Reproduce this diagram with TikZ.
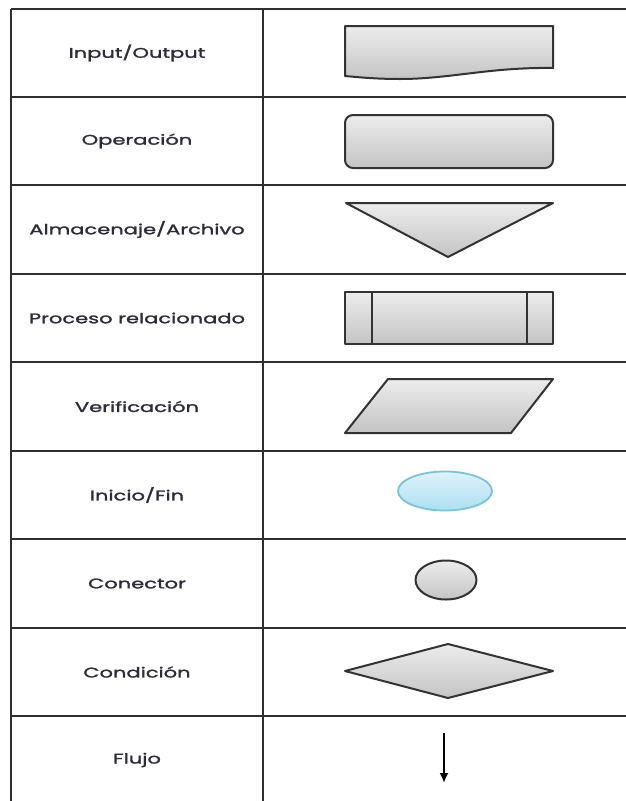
\documentclass[tikz,border=0pt]{standalone}
\usepackage{fontspec}
\newfontfamily\labfont{Poppins}[FakeStretch=1.5, FakeBold=1.6]
\usetikzlibrary{arrows.meta}
\definecolor{gridline}{HTML}{2E2E2E}
\definecolor{shapeline}{HTML}{333333}
\definecolor{labelink}{HTML}{2F2A38}
\definecolor{greytop}{HTML}{ECECEC}
\definecolor{greybot}{HTML}{C4C4C4}
\definecolor{bluetop}{HTML}{DDF3FB}
\definecolor{bluebot}{HTML}{AEDFF1}
\definecolor{blueline}{HTML}{7CC3D8}
\tikzset{
  grid/.style={draw=gridline, line width=2pt},
  label/.style={font=\labfont\fontsize{14}{16}\selectfont, text=labelink, inner sep=0pt, anchor=center},
  symbol/.style={draw=shapeline, line width=2pt, line join=round, top color=greytop, bottom color=greybot},
  terminal/.style={draw=blueline, line width=1.8pt, top color=bluetop, bottom color=bluebot},
  flow/.style={draw=black, line width=1.8pt, -{Latex[length=10pt,width=9pt]}}
}
\begin{document}
\begin{tikzpicture}[x=1pt, y=-1pt]
  \useasboundingbox (0,0) rectangle (626,801);
  \fill[white] (0,0) rectangle (626,801);

  % table rules
  \draw[grid] (11,9) -- (626,9);
  \foreach \yy in {97,185,274,362,451,539,628,716}
    \draw[grid] (11,\yy) -- (626,\yy);
  \draw[grid] (11,9) -- (11,801);
  \draw[grid] (263,9) -- (263,801);

  % left column: symbol names
  \node[label] (lio)   at (137,53)    {Input/Output};
  \node[label] (lop)   at (137,141)   {Operación};
  \node[label] (lal)   at (137,229.5) {Almacenaje/Archivo};
  \node[label] (lpr)   at (137,318)   {Proceso relacionado};
  \node[label] (lve)   at (137,406.5) {Verificación};
  \node[label] (lin)   at (137,495)   {Inicio/Fin};
  \node[label] (lco)   at (137,583.5) {Conector};
  \node[label] (lcd)   at (137,672)   {Condición};
  \node[label] (lfl)   at (137,760)   {Flujo};

  % document (input/output)
  \path[symbol] (345,26) -- (553,26) -- (553,68)
    .. controls (490,67) and (450,79) .. (400,79)
    .. controls (375,79) and (356,77) .. (345,76) -- cycle;

  % operation
  \path[symbol, rounded corners=8pt] (345,115) rectangle (553,168);

  % storage
  \path[symbol] (346,203) -- (553,203) -- (448,257) -- cycle;

  % predefined process
  \path[symbol] (345,292) rectangle (553,344);
  \draw[shapeline, line width=2pt] (372,292) -- (372,344);
  \draw[shapeline, line width=2pt] (527,292) -- (527,344);

  % verification
  \path[symbol] (388,379) -- (553,379) -- (511,433) -- (345,433) -- cycle;

  % start / end
  \path[terminal] (445,491) ellipse [x radius=47, y radius=19.5];

  % connector
  \path[symbol] (446,580) ellipse [x radius=30.5, y radius=19.5];

  % decision
  \path[symbol] (345,671) -- (448,644) -- (553,671) -- (448,698) -- cycle;

  % flow arrow
  \coordinate (fa) at (444,733);
  \coordinate (fb) at (444,783);
  \draw[flow] (fa) -- (fb);
\end{tikzpicture}
\end{document}
